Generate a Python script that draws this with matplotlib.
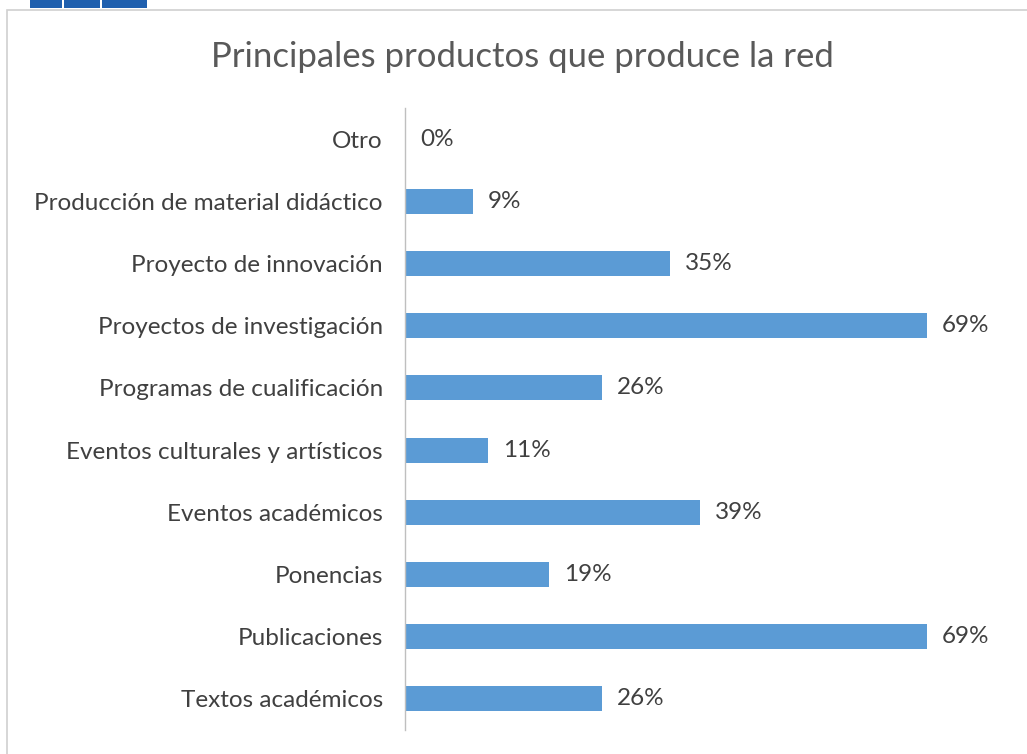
import numpy as np
import matplotlib
matplotlib.use("Agg")
import matplotlib.pyplot as plt
from matplotlib.patches import Rectangle

# ── Data (top to bottom as shown) ─────────────────────────────────────────────
categories = [
    "Otro",
    "Producción de material didáctico",
    "Proyecto de innovación",
    "Proyectos de investigación",
    "Programas de cualificación",
    "Eventos culturales y artísticos",
    "Eventos académicos",
    "Ponencias",
    "Publicaciones",
    "Textos académicos",
]
values = [0, 9, 35, 69, 26, 11, 39, 19, 69, 26]

TITLE = "Principales productos que produce la red"
BAR_COLOUR = "#5B9BD5"
TEXT_COLOUR = "#404040"
FONT = ["Lato", "DejaVu Sans"]

plt.rcParams["font.family"] = FONT

W, H = 1027, 754
fig = plt.figure(figsize=(W / 100, H / 100), dpi=100)

# cropped logo strip at the very top (blue blocks)
for x0, x1 in [(30, 62), (64, 100), (102, 147)]:
    fig.patches.append(Rectangle((x0 / W, 1 - 8 / H), (x1 - x0) / W, 8 / H,
                                 transform=fig.transFigure, color="#1f5fae",
                                 linewidth=0))

# chart frame border
fig.patches.append(Rectangle((7 / W, -0.01), 1.02, 1 - 10 / H + 0.01,
                             transform=fig.transFigure, fill=False,
                             edgecolor="#d0d0d0", linewidth=1.2))

ax = fig.add_axes([405 / W, 24 / H, 605 / W, 622 / H])
y = np.arange(len(categories))
ax.barh(y, values, height=0.4, color=BAR_COLOUR)
ax.set_ylim(len(categories) - 0.5, -0.5)
ax.set_xlim(0, 80)
ax.set_yticks(y)
ax.set_yticklabels(categories, fontsize=17.5, color=TEXT_COLOUR)
ax.tick_params(axis="y", length=0, pad=16)
ax.set_xticks([])
for side in ("top", "right", "bottom"):
    ax.spines[side].set_visible(False)
ax.spines["left"].set_color("#bfbfbf")
ax.spines["left"].set_linewidth(1.0)

for yi, v in zip(y, values):
    ax.annotate(f"{v}%", xy=(v, yi), xytext=(15, 0), textcoords="offset pixels",
                va="center", ha="left", fontsize=17.5, color=TEXT_COLOUR)

fig.text(522 / W, 1 - 57 / H, TITLE, ha="center", va="center",
         fontsize=25, color="#595959")

fig.savefig("out.png", dpi=100)
